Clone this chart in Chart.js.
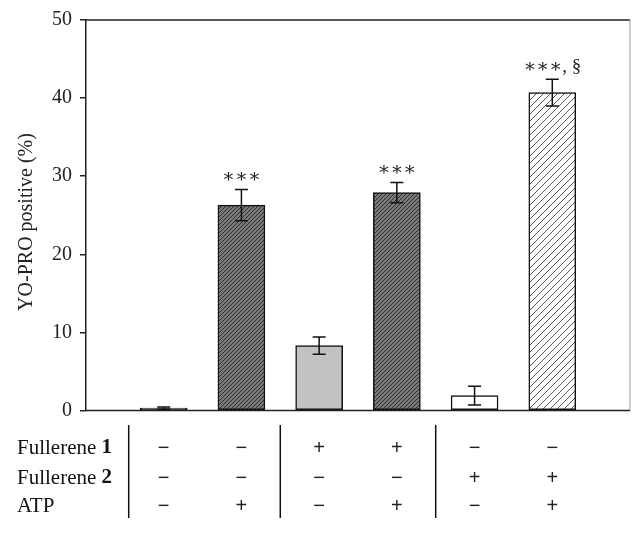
<!DOCTYPE html>
<html>
<head>
<meta charset="utf-8">
<script src="https://cdn.jsdelivr.net/npm/chart.js@4/dist/chart.umd.min.js"></script>
<style>
html,body{margin:0;padding:0;background:#fff;}
#wrap{width:644px;height:534px;position:relative;}
</style>
</head>
<body>
<div id="wrap"><canvas id="c" width="644" height="534"></canvas></div>
<script>
// ---- data ----
const categories = ['Control', 'ATP', 'F1', 'F1 + ATP', 'F2', 'F2 + ATP'];
const values = [0.3, 26.3, 8.3, 27.9, 1.9, 40.7];
const errors = [0.15, 2.0, 1.1, 1.3, 1.2, 1.7];
const significance = ['', '∗∗∗', '', '∗∗∗', '', '∗∗∗, §'];
const fullerene1 = ['−', '−', '+', '+', '−', '−'];
const fullerene2 = ['−', '−', '−', '−', '+', '+'];
const atp = ['−', '+', '−', '+', '−', '+'];
const yTicks = [0, 10, 20, 30, 40, 50];
const rowLabels = [['Fullerene ', '1'], ['Fullerene ', '2'], ['ATP', '']];
const yTitle = 'YO-PRO positive (%)';

// ---- patterns ----
function hatch(bg, fg, size, lw) {
  const c = document.createElement('canvas');
  c.width = size; c.height = size;
  const g = c.getContext('2d');
  g.fillStyle = bg; g.fillRect(0, 0, size, size);
  g.strokeStyle = fg; g.lineWidth = lw;
  g.beginPath();
  g.moveTo(0, size); g.lineTo(size, 0);
  g.moveTo(-1, 1); g.lineTo(1, -1);
  g.moveTo(size - 1, size + 1); g.lineTo(size + 1, size - 1);
  g.stroke();
  return document.getElementById('c').getContext('2d').createPattern(c, 'repeat');
}
const darkHatch = hatch('#7a7a7a', '#2e2e2e', 4, 1);
const lightHatch = hatch('#ffffff', '#555555', 7, 1);
const fills = ['#444444', darkHatch, '#c2c2c2', darkHatch, '#ffffff', lightHatch];

const serif = "'Liberation Serif', 'DejaVu Serif', serif";

const overlay = {
  id: 'overlay',
  afterDatasetsDraw(chart) {
    const ctx = chart.ctx;
    const xs = chart.scales.x, ys = chart.scales.y;
    const a = chart.chartArea;
    ctx.save();
    // frame: top & right
    ctx.strokeStyle = '#222'; ctx.lineWidth = 1.5;
    ctx.beginPath(); ctx.moveTo(a.left, a.top); ctx.lineTo(a.right, a.top); ctx.stroke();
    ctx.strokeStyle = '#999'; ctx.lineWidth = 1;
    ctx.beginPath(); ctx.moveTo(a.right, a.top); ctx.lineTo(a.right, a.bottom); ctx.stroke();
    // baseline
    ctx.strokeStyle = '#222'; ctx.lineWidth = 1.5;
    ctx.beginPath(); ctx.moveTo(a.left, ys.getPixelForValue(0)); ctx.lineTo(a.right, ys.getPixelForValue(0)); ctx.stroke();
    // error bars
    ctx.strokeStyle = '#111'; ctx.lineWidth = 1.5;
    values.forEach((v, i) => {
      const x = xs.getPixelForValue(i + 1);
      const yt = ys.getPixelForValue(v + errors[i]);
      const yb = ys.getPixelForValue(Math.max(0, v - errors[i]));
      ctx.beginPath();
      ctx.moveTo(x, yt); ctx.lineTo(x, yb);
      ctx.moveTo(x - 6.5, yt); ctx.lineTo(x + 6.5, yt);
      ctx.moveTo(x - 6.5, yb); ctx.lineTo(x + 6.5, yb);
      ctx.stroke();
      if (significance[i]) {
        ctx.fillStyle = '#222';
        ctx.font = "19px " + serif;
        ctx.textAlign = 'center'; ctx.textBaseline = 'middle';
        ctx.fillText(significance[i], x, yt - 12);
      }
    });
    // y title
    ctx.save();
    ctx.translate(27, 222); ctx.rotate(-Math.PI / 2);
    ctx.fillStyle = '#222'; ctx.font = "20px " + serif;
    ctx.textAlign = 'center'; ctx.textBaseline = 'middle';
    ctx.fillText(yTitle, 0, 0);
    ctx.restore();
    // table
    const rowsY = [448, 478, 506];
    const rows = [fullerene1, fullerene2, atp];
    ctx.textBaseline = 'middle';
    rowLabels.forEach((lab, r) => {
      ctx.textAlign = 'left';
      ctx.font = "21px " + serif; ctx.fillStyle = '#111';
      ctx.fillText(lab[0], 17, rowsY[r]);
      const w = ctx.measureText(lab[0]).width;
      if (lab[1]) { ctx.font = "bold 21px " + serif; ctx.fillText(lab[1], 17 + w, rowsY[r]); }
      ctx.font = "20px 'Liberation Sans', sans-serif"; ctx.textAlign = 'center'; ctx.fillStyle = '#222';
      rows[r].forEach((s, i) => ctx.fillText(s, xs.getPixelForValue(i + 1), rowsY[r]));
    });
    // separators
    const seps = [xs.getPixelForValue(1) - 35,
                  (xs.getPixelForValue(2) + xs.getPixelForValue(3)) / 2,
                  (xs.getPixelForValue(4) + xs.getPixelForValue(5)) / 2];
    ctx.strokeStyle = '#111'; ctx.lineWidth = 1.5;
    seps.forEach(x => { ctx.beginPath(); ctx.moveTo(x, 425); ctx.lineTo(x, 518); ctx.stroke(); });
    ctx.restore();
  }
};

new Chart(document.getElementById('c'), {
  type: 'bar',
  data: {
    labels: ['', ...categories, ''],
    datasets: [{
      data: [null, ...values, null],
      backgroundColor: ['#fff', ...fills, '#fff'],
      borderColor: '#111',
      borderWidth: 1.5,
      borderSkipped: false,
      barThickness: 47
    }]
  },
  options: {
    responsive: false,
    animation: false,
    layout: { padding: { left: 0, right: 14, top: 20, bottom: 123.5 } },
    plugins: { legend: { display: false }, tooltip: { enabled: false } },
    scales: {
      x: { type: 'category', offset: false, display: false },
      y: {
        min: 0, max: 50,
        afterFit(s) { s.width = 86; },
        afterBuildTicks(s) { s.ticks = yTicks.map(v => ({ value: v })); },
        ticks: { color: '#222', font: { family: serif, size: 20 }, padding: 8 },
        grid: { drawOnChartArea: false, drawTicks: true, tickLength: 6, color: '#222', lineWidth: 1.5 },
        border: { display: true, color: '#222', width: 1.5 }
      }
    }
  },
  plugins: [overlay]
});
</script>
</body>
</html>
